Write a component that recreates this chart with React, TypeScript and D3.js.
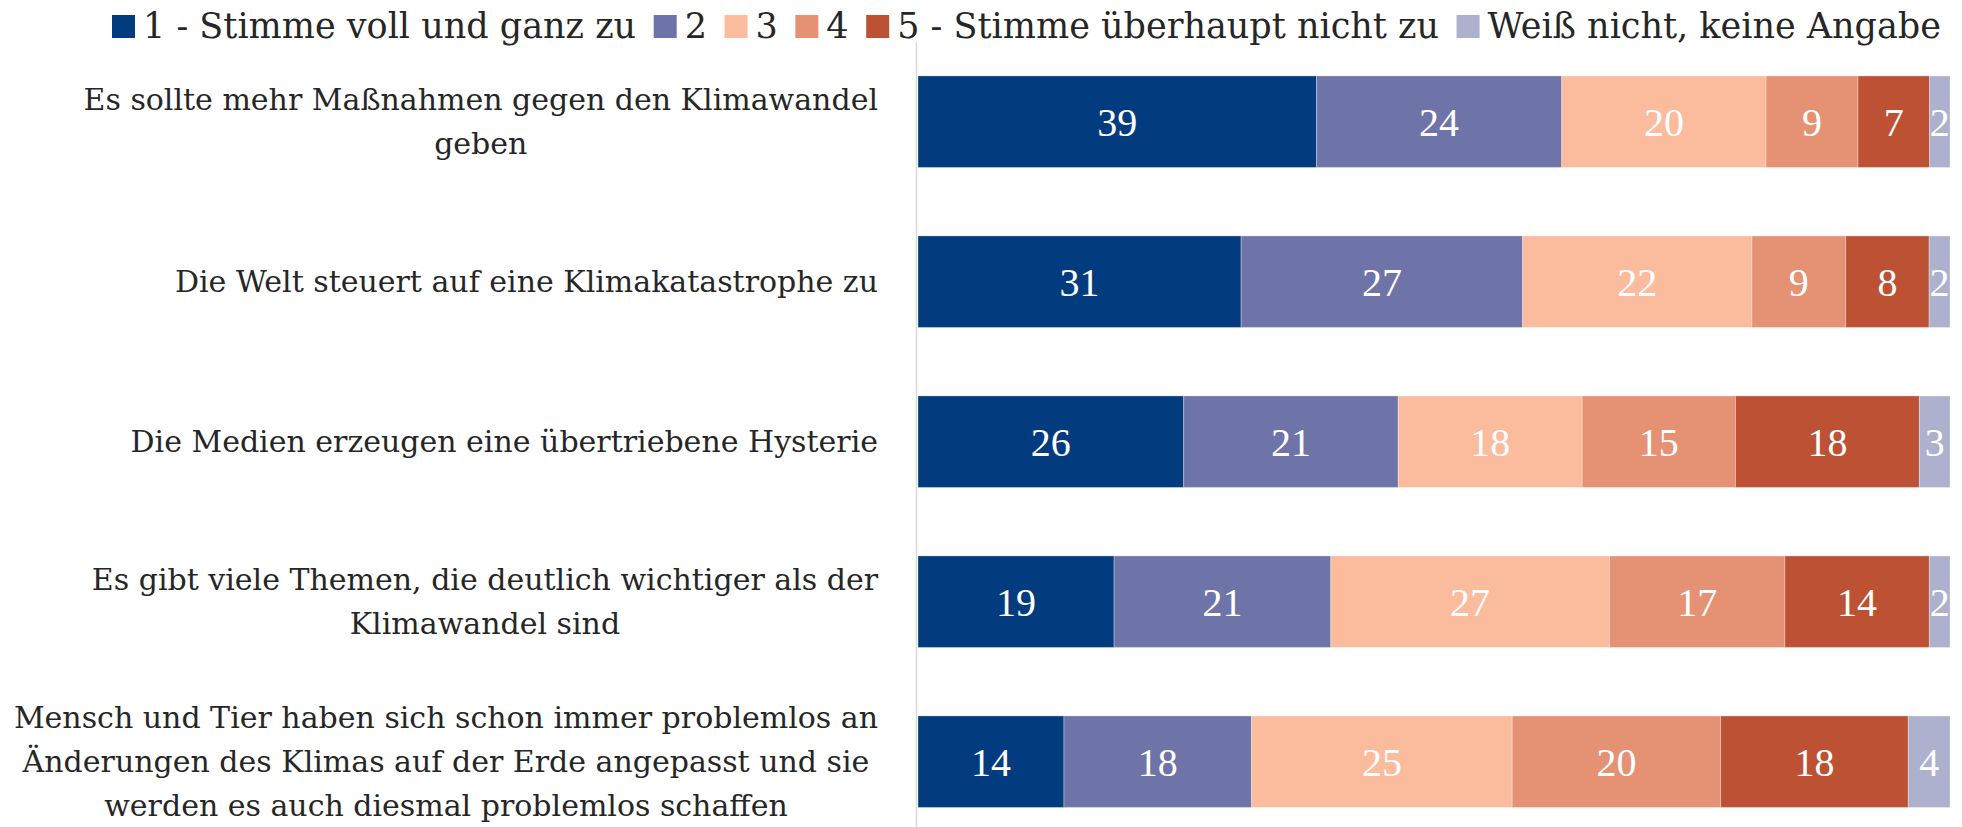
import React, { useEffect, useRef } from "react";
import * as d3 from "d3";

const categories = [
  "Es sollte mehr Maßnahmen gegen den Klimawandel geben",
  "Die Welt steuert auf eine Klimakatastrophe zu",
  "Die Medien erzeugen eine übertriebene Hysterie",
  "Es gibt viele Themen, die deutlich wichtiger als der Klimawandel sind",
  "Mensch und Tier haben sich schon immer problemlos an Änderungen des Klimas auf der Erde angepasst und sie werden es auch diesmal problemlos schaffen",
];
const categoryLines = [
  ["Es sollte mehr Maßnahmen gegen den Klimawandel", "geben"],
  ["Die Welt steuert auf eine Klimakatastrophe zu"],
  ["Die Medien erzeugen eine übertriebene Hysterie"],
  ["Es gibt viele Themen, die deutlich wichtiger als der", "Klimawandel sind"],
  [
    "Mensch und Tier haben sich schon immer problemlos an",
    "Änderungen des Klimas auf der Erde angepasst und sie",
    "werden es auch diesmal problemlos schaffen",
  ],
];
const seriesNames = [
  "1 - Stimme voll und ganz zu",
  "2",
  "3",
  "4",
  "5 - Stimme überhaupt nicht zu",
  "Weiß nicht, keine Angabe",
];
const s1 = [39, 31, 26, 19, 14];
const s2 = [24, 27, 21, 21, 18];
const s3 = [20, 22, 18, 27, 25];
const s4 = [9, 9, 15, 17, 20];
const s5 = [7, 8, 18, 14, 18];
const s6 = [2, 2, 3, 2, 4];
const seriesValues = [s1, s2, s3, s4, s5, s6];
const colors = ["#023B7E", "#6F74A8", "#FABC9D", "#E59274", "#BC5233", "#ADB1CE"];

const W = 1962;
const H = 827;
const labelFont = "'DejaVu Serif', serif";
const valueFont = "'Liberation Serif', serif";

export default function App() {
  const ref = useRef<SVGSVGElement>(null);

  useEffect(() => {
    const svg = d3.select(ref.current);
    svg.selectAll("*").remove();

    const rows = categories.map((c, i) => {
      const r: any = { cat: c };
      seriesNames.forEach((s, j) => (r[s] = seriesValues[j][i]));
      return r;
    });
    const stacked = d3.stack<any>().keys(seriesNames).offset(d3.stackOffsetExpand)(rows);

    const x = d3.scaleLinear().domain([0, 1]).range([918, 1950]);
    const y = d3
      .scaleBand<string>()
      .domain(categories)
      .range([41.7, 841.7])
      .paddingInner(0.428)
      .paddingOuter(0.214);

    // axis line
    svg
      .append("line")
      .attr("x1", 916.5)
      .attr("x2", 916.5)
      .attr("y1", y.range()[0])
      .attr("y2", H)
      .attr("stroke", "#D9D9D9")
      .attr("stroke-width", 1.5);

    // bars
    const g = svg.append("g");
    stacked.forEach((layer, j) => {
      const lg = g.append("g");
      lg.selectAll("rect")
        .data(layer)
        .join("rect")
        .attr("x", (d) => x(d[0]))
        .attr("y", (d: any) => y(d.data.cat)!)
        .attr("width", (d) => x(d[1]) - x(d[0]))
        .attr("height", y.bandwidth())
        .attr("fill", colors[j])
        .attr("stroke", "#fff")
        .attr("stroke-opacity", 0.3)
        .attr("stroke-width", 1);
      lg.selectAll("text")
        .data(layer)
        .join("text")
        .attr("x", (d) => (x(d[0]) + x(d[1])) / 2)
        .attr("y", (d: any) => y(d.data.cat)! + y.bandwidth() / 2 + 14)
        .attr("text-anchor", "middle")
        .attr("fill", "#fff")
        .style("font-family", valueFont)
        .style("font-size", "40px")
        .text((d: any) => String(d.data[seriesNames[j]]));
    });

    // category labels: block right-aligned at 878, lines centered within block
    const labelSize = 30;
    const lineH = 44;
    categories.forEach((c, i) => {
      const lines = categoryLines[i];
      const cy = y(c)! + y.bandwidth() / 2;
      const tg = svg.append("g");
      const texts = lines.map((ln, k) =>
        tg
          .append("text")
          .attr("y", cy + (k - (lines.length - 1) / 2) * lineH + 10)
          .attr("text-anchor", "middle")
          .attr("fill", "#262626")
          .style("font-family", labelFont)
          .style("font-size", labelSize + "px")
          .text(ln)
      );
      const widths = texts.map((t) => (t.node() as SVGTextElement).getComputedTextLength());
      const maxW = Math.max(...widths);
      const center = 878 - maxW / 2;
      texts.forEach((t) => t.attr("x", center));
    });

    // legend
    const legendSize = 35;
    const lg = svg.append("g");
    const items = seriesNames.map((name, j) => {
      const rect = lg.append("rect").attr("y", 15).attr("width", 23).attr("height", 23).attr("fill", colors[j]);
      const t = lg
        .append("text")
        .attr("y", 38)
        .attr("fill", "#262626")
        .style("font-family", labelFont)
        .style("font-size", legendSize + "px")
        .text(name);
      const w = (t.node() as SVGTextElement).getComputedTextLength();
      return { rect, t, w };
    });
    const start = 112;
    const end = 1941;
    const textOff = 31;
    const natural = d3.sum(items, (it) => textOff + it.w);
    const gap = (end - start - natural) / (items.length - 1);
    let cx = start;
    items.forEach((it) => {
      it.rect.attr("x", cx);
      it.t.attr("x", cx + textOff);
      cx += textOff + it.w + gap;
    });
  }, []);

  return (
    <svg
      ref={ref}
      width={W}
      height={H}
      style={{ position: "absolute", left: 0, top: 0, background: "#fff", overflow: "hidden" }}
    />
  );
}
